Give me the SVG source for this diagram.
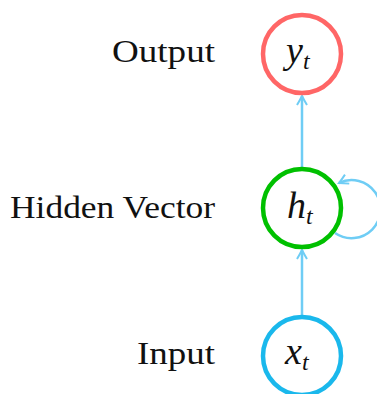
<svg xmlns="http://www.w3.org/2000/svg" width="377" height="394" viewBox="0 0 377 394">
<style>
.lbl{font-family:"Liberation Serif","Times New Roman",serif;font-size:32px;fill:#111;text-anchor:end}
.math{font-family:"Liberation Serif","Times New Roman",serif;font-style:italic;font-size:38px;fill:#111}
.sub{font-size:24px}
.node{fill:#fff;stroke-width:4.5}
.conn{fill:none;stroke:#6fcdf5;stroke-width:2.5}
</style>
<defs>
<marker id="arr" viewBox="0 0 12 12" refX="10" refY="6" markerWidth="12" markerHeight="12" markerUnits="userSpaceOnUse" orient="auto">
<path d="M1,1 Q6,4 10,6 Q6,8 1,11" fill="none" stroke="#6fcdf5" stroke-width="2"/>
</marker>
</defs>
<g id="connectors">
<line class="conn" x1="302" y1="316" x2="302" y2="250" marker-end="url(#arr)"/>
<line class="conn" x1="302" y1="168" x2="302" y2="96" marker-end="url(#arr)"/>
<path class="conn" d="M335,233 A29,29 0 1,0 339,183" marker-end="url(#arr)"/>
</g>
<g id="output">
<circle class="node" cx="302" cy="54" r="39" stroke="#ff6666"/>
<text class="math" x="286" y="63">y<tspan class="sub" dy="6">t</tspan></text>
</g>
<g id="hidden">
<circle class="node" cx="302" cy="208" r="39" stroke="#00c000"/>
<text class="math" x="287" y="218">h<tspan class="sub" dy="6">t</tspan></text>
</g>
<g id="input">
<circle class="node" cx="302" cy="356" r="39" stroke="#1ab8ec"/>
<text class="math" x="285" y="364">x<tspan class="sub" dy="6">t</tspan></text>
</g>
<text class="lbl" x="215" y="62" textLength="103" lengthAdjust="spacingAndGlyphs">Output</text>
<text class="lbl" x="215" y="218" textLength="205" lengthAdjust="spacingAndGlyphs">Hidden Vector</text>
<text class="lbl" x="215" y="364" textLength="78" lengthAdjust="spacingAndGlyphs">Input</text>
</svg>
